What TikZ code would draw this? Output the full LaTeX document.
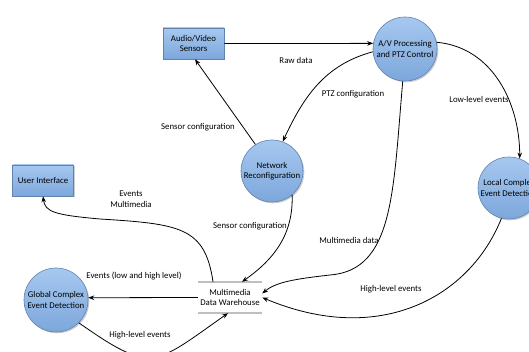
\documentclass[tikz,border=0pt]{standalone}
\usepackage{fontspec}
\setmainfont{Carlito}
\usetikzlibrary{arrows.meta,shadows}
\definecolor{nodetop}{HTML}{A6C8F0}
\definecolor{nodebot}{HTML}{7DA7DB}
\definecolor{nodeedge}{HTML}{5F82B0}
\newcommand{\lbl}{\fontsize{8.8}{10.5}\selectfont}
\tikzset{
  base/.style={draw=nodeedge, line width=0.6pt, top color=nodetop, bottom color=nodebot,
    drop shadow={shadow xshift=1.3pt, shadow yshift=-1.3pt, fill=black!40},
    align=center, font=\lbl, text=black},
  procbox/.style={base, rectangle, minimum width=61pt, minimum height=31pt, inner sep=1pt},
  proccirc/.style={base, circle, inner sep=0pt},
  whbox/.style={rectangle, minimum width=64pt, minimum height=31pt, align=center, font=\lbl, inner sep=1pt},
  whline/.style={draw=black!25, line width=2pt},
  flow/.style={draw=black, line width=0.8pt, -{Stealth[length=6pt,width=4.5pt]}},
  lab/.style={font=\lbl, align=center, inner sep=0pt},
}
\begin{document}
\begin{tikzpicture}[x=1pt,y=1pt]
\useasboundingbox (0,0) rectangle (529,352);
\clip (0,0) rectangle (529,352);
% nodes
\node[procbox] (sens) at (193.5,308.5) {Audio/Video\\Sensors};
\node[procbox] (ui) at (43,171.5) {User Interface};
\node[proccirc, minimum size=64pt] (av) at (405,303) {A/V Processing\\and PTZ Control};
\node[proccirc, minimum size=62pt] (net) at (272,181) {Network\\Reconfiguration};
\node[proccirc, minimum size=62pt] (loc) at (509,164) {Local Complex\\Event Detection};
\node[proccirc, minimum size=64pt] (glob) at (56,52) {Global Complex\\Event Detection};
\node[whbox] (wh) at (230,54.5) {Multimedia\\Data Warehouse};
\draw[whline] (wh.north west) -- (wh.north east);
\draw[whline] (wh.south west) -- (wh.south east);
% connectors
\draw[flow] (sens.east) -- (av.170);
\draw[flow] (av.185) to[out=195,in=65] (net.70);
\draw[flow] (net.122) -- ([xshift=1.5pt]sens.south);
\draw[flow] (av.12) to[out=-5,in=90] (loc.70);
\draw[flow] (av.266) .. controls (393,160) and (394,82) .. (330,77) .. controls (295,73) and (276,70) .. ([yshift=4pt]wh.east);
\draw[flow] (loc.256) .. controls (470,55) and (380,5) .. (wh.east);
\draw[flow] (net.-50) to[out=-88,in=35] ([xshift=12pt]wh.north);
\draw[flow] ([xshift=-17pt]wh.north) .. controls (205,125) and (180,128) .. (100,133) .. controls (55,137) and (45,140) .. (ui.south);
\draw[flow] (wh.west) -- (glob.4);
\draw[flow] (glob.-45) to[out=-35,in=-145,looseness=1.55] ([xshift=-2pt]wh.south);
% labels
\node[lab] (lraw) at (296,292) {Raw data};
\node[lab] (lptz) at (353,258) {PTZ configuration};
\node[lab] (lsc1) at (198,225) {Sensor configuration};
\node[lab] (llow) at (479,253) {Low-level events};
\node[lab] (lmm) at (349,112) {Multimedia data};
\node[lab] (lhl1) at (391,63) {High-level events};
\node[lab] (lsc2) at (250,126) {Sensor configuration};
\node[lab] (lev) at (131,153) {Events\\Multimedia};
\node[lab] (levlh) at (134,76) {Events (low and high level)};
\node[lab] (lhl2) at (140,17) {High-level events};
\end{tikzpicture}
\end{document}
